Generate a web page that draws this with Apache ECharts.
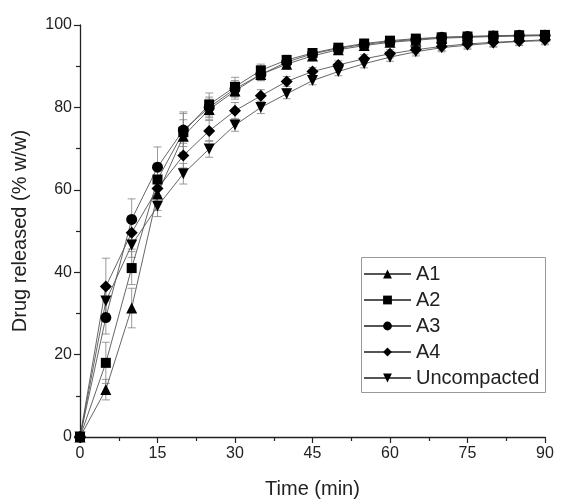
<!DOCTYPE html>
<html><head><meta charset="utf-8">
<script src="https://cdn.jsdelivr.net/npm/echarts@6/dist/echarts.min.js"></script>
<style>html,body{margin:0;padding:0;background:#fff}#c{width:561px;height:504px}</style>
</head><body><div id="c"></div>
<script>
const times = [0,5,10,15,20,25,30,35,40,45,50,55,60,65,70,75,80,85,90];
const seriesNames = ['A1','A2','A3','A4','Uncompacted'];
const A1 = [0,11.5,31.3,59,73,79.5,84,88,90.5,92.5,94,95,95.8,96.3,96.8,97,97.2,97.3,97.4];
const A2 = [0,18,41,62.5,74,80.7,85,89,91.5,93.2,94.5,95.5,96.2,96.7,97,97.2,97.4,97.5,97.6];
const A3 = [0,29,52.8,65.5,74.5,80,84.5,88,91,93,94.3,95.3,96,96.5,97,97.2,97.3,97.5,97.5];
const A4 = [0,36.5,49.6,60.3,68.3,74.3,79.2,82.8,86.3,88.7,90.3,91.8,93,94,94.8,95.4,95.8,96.1,96.4];
const Unc = [0,33,46.6,56,63.9,69.9,75.7,80,83.3,86.5,88.7,90.6,92.2,93.5,94.5,95.1,95.6,96,96.2];
const errA1 = [0,2.5,4.8,4,4,2.5,2,1.5,1.2,1,1,1,1,1,1,1,1,1,1];
const errA2 = [0,5,4,4,4.9,2.8,2.3,1.5,1.2,1,1,1,1,1,1,1,1,1,1];
const errA3 = [0,4,5,4.9,4,2.5,2,1.5,1.2,1,1,1,1,1,1,1,1,1,1];
const errA4 = [0,6.9,4,3,3,2.5,2,1.5,1.2,1,1,1,1,1,1,1,1,1,1];
const errUnc = [0,3,3,2.5,2.5,2,1.5,1.5,1.2,1,1,1,1,1,1,1,1,1,1];
const xTicks = [0,15,30,45,60,75,90];
const yTicks = [0,20,40,60,80,100];

const values = [A1,A2,A3,A4,Unc];
const errs = [errA1,errA2,errA3,errA4,errUnc];
const symbols = ['triangle','rect','circle','diamond','triangle'];
const rotates = [0,0,0,0,180];
const sizes = [11,10,11,12,11];

const chart = echarts.init(document.getElementById('c'), null, {renderer:'canvas'});
const font = 'Liberation Sans, Arial, sans-serif';
const series = [];
values.forEach((v,i)=>{
  series.push({
    type:'custom', name: seriesNames[i]+'_err', silent:true, z:1,
    data: times.map((t,j)=>[t, v[j]-errs[i][j], v[j]+errs[i][j]]),
    renderItem:(params, api)=>{
      const lo = api.coord([api.value(0), api.value(1)]);
      const hi = api.coord([api.value(0), api.value(2)]);
      const w = 4;
      const st = {stroke:'#808080', lineWidth:0.8};
      return {type:'group', children:[
        {type:'line', shape:{x1:lo[0],y1:lo[1],x2:hi[0],y2:hi[1]}, style:st},
        {type:'line', shape:{x1:lo[0]-w,y1:lo[1],x2:lo[0]+w,y2:lo[1]}, style:st},
        {type:'line', shape:{x1:hi[0]-w,y1:hi[1],x2:hi[0]+w,y2:hi[1]}, style:st}
      ]};
    }
  });
});
values.forEach((v,i)=>{
  series.push({
    type:'line', name: seriesNames[i], z:3,
    data: times.map((t,j)=>[t, v[j]]),
    symbol: symbols[i], symbolRotate: rotates[i], symbolSize: sizes[i],
    showAllSymbol: true,
    lineStyle:{color:'#555', width:0.9},
    itemStyle:{color:'#000', borderWidth:0},
    emphasis:{disabled:true}
  });
});

chart.setOption({
  animation:false,
  backgroundColor:'#fff',
  grid:{left:80, right:16, top:25, bottom:64, containLabel:false},
  xAxis:{type:'value', min:0, max:90, interval:15,
    name:'Time (min)', nameLocation:'middle', nameGap:42,
    nameTextStyle:{fontFamily:font, fontSize:20, color:'#222'},
    axisLine:{lineStyle:{color:'#222', width:1.3}},
    axisTick:{inside:false, length:6, lineStyle:{color:'#222', width:1.2}},
    minorTick:{show:true, splitNumber:2, length:4, lineStyle:{color:'#222', width:1.2}},
    axisLabel:{fontFamily:font, fontSize:16, color:'#222', margin:9},
    splitLine:{show:false}},
  yAxis:{type:'value', min:0, max:100, interval:20,
    name:'Drug released (% w/w)', nameLocation:'middle', nameGap:50, nameRotate:90,
    nameTextStyle:{fontFamily:font, fontSize:20, color:'#222'},
    axisLine:{show:true, lineStyle:{color:'#222', width:1.3}},
    axisTick:{show:true, inside:false, length:6, lineStyle:{color:'#222', width:1.2}},
    minorTick:{show:true, splitNumber:2, length:4, lineStyle:{color:'#222', width:1.2}},
    axisLabel:{fontFamily:font, fontSize:16, color:'#222', margin:8},
    splitLine:{show:false}},
  legend:{orient:'vertical', left:358, top:259, itemGap:6, itemWidth:47, itemHeight:11,
    data: seriesNames.map(n=>({name:n})),
    textStyle:{fontFamily:font, fontSize:20, color:'#222', padding:[0,0,0,0]},
    selectedMode:false},
  graphic:[{type:'rect', shape:{x:361.5, y:257.5, width:184, height:135},
    style:{fill:'none', stroke:'#999', lineWidth:1}, z:0}],
  series
});
</script></body></html>
